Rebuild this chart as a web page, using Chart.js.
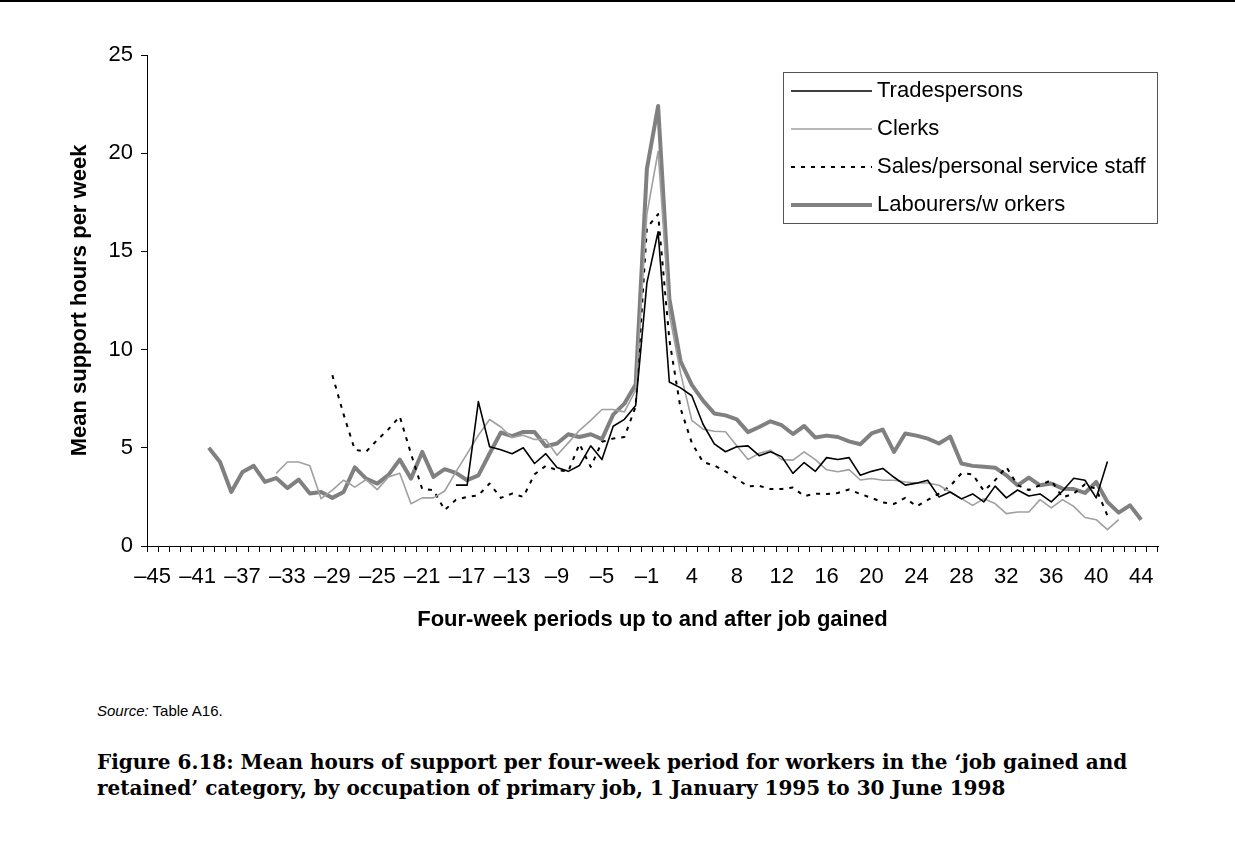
<!DOCTYPE html>
<html>
<head>
<meta charset="utf-8">
<script src="https://cdn.jsdelivr.net/npm/chart.js@4.4.1/dist/chart.umd.min.js"></script>
<style>
  body { margin: 0; background: #fff; width: 1235px; height: 847px; position: relative; overflow: hidden; }
  .rule { position: absolute; left: 0; top: 0; width: 1235px; height: 2px; background: #000; }
  #chart { position: absolute; left: 0; top: 0; }
  .source { position: absolute; left: 97px; top: 702px; font: 15px "Liberation Sans", Arial, sans-serif; color: #000; }
  .caption { position: absolute; left: 97px; top: 749px; font: bold 20px/26px "DejaVu Serif", Georgia, serif; color: #000; white-space: nowrap; }
</style>
</head>
<body>
<div class="rule"></div>
<canvas id="chart" width="1235" height="660"></canvas>
<div class="source"><i>Source:</i> Table A16.</div>
<div class="caption">Figure 6.18: Mean hours of support per four-week period for workers in the ‘job gained and<br>retained’ category, by occupation of primary job, 1 January 1995 to 30 June 1998</div>

<script>
// four-week periods: -45..-1 before the job, 1..45 after
const periods = [];
for (let p = -45; p <= -1; p++) periods.push(p);
for (let p = 1; p <= 45; p++) periods.push(p);

// only every 4th period gets a label
const tickLabels = periods.map((p, i) => i % 4 === 0 ? (p < 0 ? '\u2013' + Math.abs(p) : String(p)) : '');

const pad = n => Array(n).fill(null);

const tradespersons = [].concat(pad(27),
    [3.1, 3.1, 7.35, 5.05, 4.9, 4.7, 5.0, 4.2, 4.7, 4.0, 3.8, 4.1, 5.1, 4.4, 6.1, 6.45, 7.15, 13.4],
    [16.0, 8.35, 8.05, 7.65, 6.2, 5.2, 4.8, 5.05, 5.1, 4.6,
     4.8, 4.55, 3.7, 4.25, 3.8, 4.5, 4.4, 4.5, 3.6, 3.8,
     3.95, 3.5, 3.1, 3.2, 3.35, 2.5, 2.75, 2.4, 2.65, 2.25,
     3.05, 2.45, 2.85, 2.55, 2.65, 2.25, 2.8, 3.45, 3.35, 2.45, 4.3],
    pad(4));

const clerks = [].concat(pad(11),
    [3.7, 4.28, 4.28, 4.08, 2.41, 2.85, 3.35, 3.0, 3.38, 2.87,
     3.52, 3.7, 2.15, 2.45, 2.45, 2.8, 3.77, 4.7, 5.64, 6.44,
     6.06, 5.52, 5.64, 5.42, 5.42, 4.62, 5.25, 5.89, 6.4, 6.95,
     6.95, 6.83, 7.93, 16.9],
    [20.1, 11.8, 8.8, 6.4, 5.95, 5.84, 5.82, 5.1, 4.4, 4.72,
     4.88, 4.4, 4.37, 4.79, 4.4, 3.88, 3.78, 3.89, 3.36, 3.44,
     3.35, 3.35, 3.26, 3.21, 3.21, 3.09, 2.75, 2.41, 2.07, 2.41,
     2.16, 1.65, 1.73, 1.73, 2.36, 1.94, 2.36, 2.02, 1.45, 1.34,
     0.83, 1.34],
    pad(3));

const salesStaff = [].concat(pad(16),
    [8.7, 6.7, 4.9, 4.8, 5.4, 5.95, 6.6, 4.7, 2.9, 2.85,
     1.83, 2.35, 2.5, 2.58, 3.18, 2.45, 2.67, 2.5, 3.65, 4.08,
     3.86, 3.8, 5.2, 4.03, 5.3, 5.47, 5.55, 7.1, 16.2],
    [16.9, 10.5, 7.0, 5.25, 4.27, 4.1, 3.8, 3.42, 3.04, 3.06,
     2.9, 2.9, 2.98, 2.54, 2.66, 2.65, 2.7, 2.88, 2.65, 2.45,
     2.22, 2.14, 2.45, 2.02, 2.35, 2.67, 3.05, 3.7, 3.65, 2.8,
     3.35, 4.02, 3.1, 2.85, 3.1, 3.35, 2.47, 2.67, 3.14, 2.9, 1.55],
    pad(4));

const labourers = [].concat(pad(5),
    [5.0, 4.28, 2.75, 3.77, 4.08, 3.26, 3.46, 2.95, 3.38, 2.67,
     2.75, 2.45, 2.75, 4.0, 3.43, 3.18, 3.62, 4.4, 3.43, 4.79,
     3.52, 3.91, 3.72, 3.35, 3.6, 4.71, 5.78, 5.59, 5.81, 5.81,
     5.08, 5.22, 5.69, 5.55, 5.69, 5.44, 6.69, 7.25, 8.22, 19.2],
    [22.4, 12.6, 9.4, 8.2, 7.4, 6.75, 6.65, 6.45, 5.8, 6.06,
     6.35, 6.15, 5.7, 6.11, 5.52, 5.62, 5.55, 5.33, 5.18, 5.73,
     5.93, 4.79, 5.73, 5.62, 5.47, 5.22, 5.57, 4.2, 4.08, 4.03,
     3.99, 3.6, 3.09, 3.48, 3.09, 3.18, 2.92, 2.9, 2.7, 3.26,
     2.24, 1.7, 2.07, 1.34],
    pad(1));

const FONT = '"Liberation Sans", Arial, sans-serif';

// boxed legend in the upper right of the plot
const boxLegend = {
    id: 'boxLegend',
    afterDraw(chart) {
        const ctx = chart.ctx;
        const x0 = chart.chartArea.right - 375, y0 = 72, w = 374, h = 151;
        ctx.save();
        ctx.fillStyle = '#fff';
        ctx.fillRect(x0, y0, w, h);
        ctx.strokeStyle = '#555';
        ctx.lineWidth = 1;
        ctx.strokeRect(x0 + 0.5, y0 + 0.5, w, h);
        ctx.font = '22px ' + FONT;
        ctx.textBaseline = 'middle';
        chart.data.datasets.forEach((ds, i) => {
            const y = y0 + 19 + i * 38;
            ctx.beginPath();
            ctx.strokeStyle = ds.borderColor;
            ctx.lineWidth = ds.borderWidth;
            ctx.setLineDash(ds.borderDash || []);
            ctx.moveTo(x0 + 8, y);
            ctx.lineTo(x0 + 89, y);
            ctx.stroke();
            ctx.setLineDash([]);
            ctx.fillStyle = '#000';
            ctx.fillText(ds.label, x0 + 94, y);
        });
        ctx.restore();
    }
};

new Chart(document.getElementById('chart'), {
    type: 'line',
    data: {
        labels: periods,
        datasets: [
            { label: 'Tradespersons', data: tradespersons, borderColor: '#000', borderWidth: 1.6 },
            { label: 'Clerks', data: clerks, borderColor: '#a0a0a0', borderWidth: 1.6 },
            { label: 'Sales/personal service staff', data: salesStaff, borderColor: '#000', borderWidth: 2, borderDash: [4, 6] },
            { label: 'Labourers/w orkers', data: labourers, borderColor: '#808080', borderWidth: 4 }
        ]
    },
    options: {
        responsive: false,
        devicePixelRatio: 1,
        animation: false,
        elements: { point: { radius: 0 }, line: { tension: 0, borderJoinStyle: 'round' } },
        layout: { padding: { top: 55, right: 77, left: 0, bottom: 0 } },
        plugins: { legend: { display: false }, tooltip: { enabled: false } },
        scales: {
            x: {
                type: 'category',
                offset: true,
                grid: { offset: true, drawOnChartArea: false, tickLength: 6, color: '#000' },
                border: { color: '#000', width: 1 },
                ticks: {
                    autoSkip: false, maxRotation: 0, minRotation: 0,
                    padding: 12, color: '#000', font: { family: FONT, size: 22 },
                    callback: (v, i) => tickLabels[i]
                },
                title: {
                    display: true, text: 'Four-week periods up to and after job gained',
                    color: '#000', font: { family: FONT, size: 22, weight: 'bold' },
                    padding: { top: 0, bottom: 27 }
                },
                afterFit: s => { s.height = 114; }
            },
            y: {
                min: 0, max: 25,
                grid: { drawOnChartArea: false, tickLength: 6, color: '#000' },
                border: { color: '#000', width: 1 },
                ticks: { stepSize: 5, padding: 8, color: '#000', font: { family: FONT, size: 22 } },
                title: {
                    display: true, text: 'Mean support hours per week',
                    color: '#000', font: { family: FONT, size: 22, weight: 'bold' },
                    padding: { top: 67, bottom: 0 }
                },
                afterFit: s => { s.width = 147; }
            }
        }
    },
    plugins: [boxLegend]
});
</script>
</body>
</html>
